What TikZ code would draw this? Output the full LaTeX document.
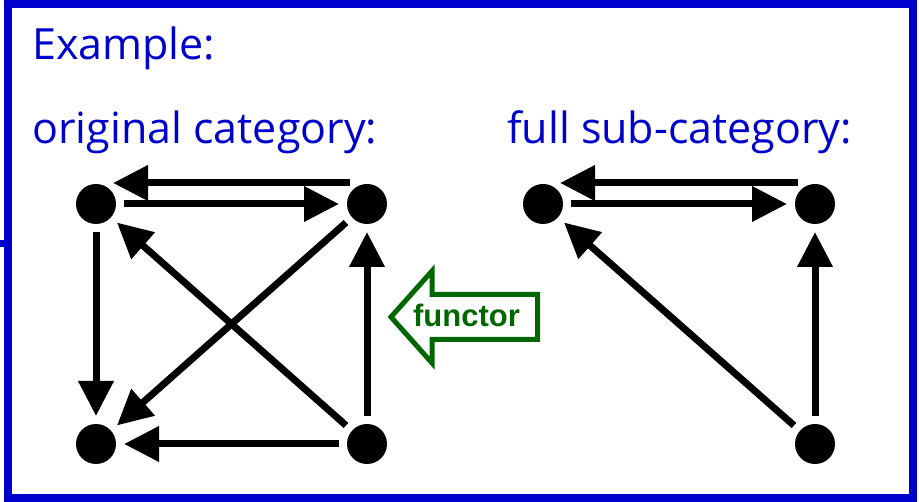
\documentclass[tikz,border=0pt]{standalone}
\usepackage{fontspec}
\setmainfont{Open Sans}
\newfontfamily\labelfont{Liberation Sans}
\usetikzlibrary{
arrows.meta,
graphs,
}
\definecolor{frameblue}{RGB}{0,0,204}
\definecolor{functorgreen}{RGB}{0,102,0}
\tikzset{
x=1pt, y=-1pt,
dot/.style={circle, fill=black, minimum size=40pt, inner sep=0pt, outer sep=8pt},
morph/.style={line width=7pt},
heading/.style={text=frameblue, anchor=base west, inner sep=0pt, font=\fontsize{43}{50}\selectfont},
>={Triangle[length=35pt,width=34pt]},
}

\begin{document}
\begin{tikzpicture}
\useasboundingbox (0,0) rectangle (919,502);
\draw [frameblue, line width=8pt] (8,4) rectangle (913,498);
\draw [frameblue, line width=7pt] (0,244) -- (8,244);
% headings
\node (example) [heading] at (32,60) {Example:};
\node (orig) [heading] at (32,144) {original category:};
\node (sub) [heading] at (507,144) {full sub-category:};
% original category
\node (a) [dot] at (96,204) {};
\node (b) [dot] at (367,204) {};
\node (c) [dot] at (96,444) {};
\node (d) [dot] at (367,444) {};
\graph [use existing nodes, edges=morph] {
    a -> b; a -> c;
    b -> c; d -> b;
    d -> a; d -> c;
};
\draw [morph, ->] ([shift={(-17pt,21pt)}]b.center) -- ([shift={(17pt,21pt)}]a.center);
% full sub-category
\node (sa) [dot] at (543,204) {};
\node (sb) [dot] at (815,204) {};
\node (sd) [dot] at (815,444) {};
\graph [use existing nodes, edges=morph] {
    sa -> sb; sd -> sb; sd -> sa;
};
\draw [morph, ->] ([shift={(-17pt,21pt)}]sb.center) -- ([shift={(17pt,21pt)}]sa.center);
% functor
\draw [functorgreen, line width=5pt, fill=white, line join=miter]
    (391,317) -- (432,271) -- (432,294.5) -- (537.5,294.5)
    -- (537.5,339.5) -- (432,339.5) -- (432,363) -- cycle;
\node (functor) [text=functorgreen, anchor=base, inner sep=0pt,
    font=\labelfont\bfseries\fontsize{31}{36}\selectfont] at (466.5,327) {functor};
\end{tikzpicture}
\end{document}
